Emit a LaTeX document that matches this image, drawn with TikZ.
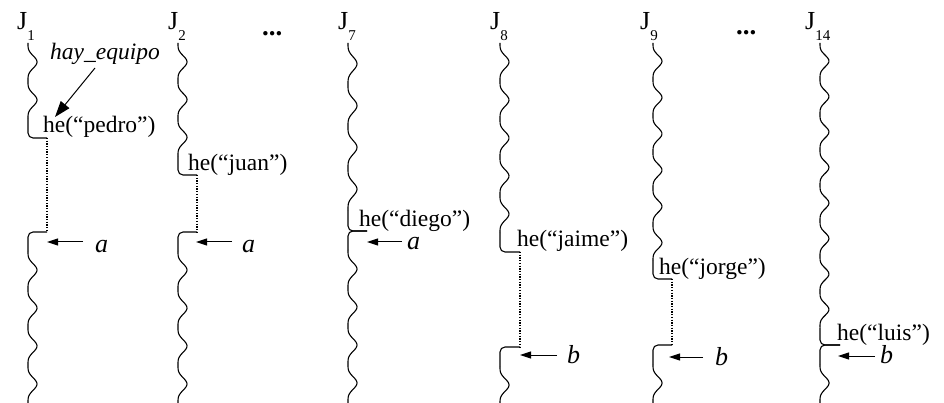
\documentclass[tikz,border=0pt]{standalone}
\usepackage{fontspec}
\setmainfont{Liberation Serif}
\usetikzlibrary{arrows.meta}
\newcommand\wv[5]{\draw[wave] plot[domain=#2:#3, samples=120, variable=\t] ({#1+9*((1+cos((\t-#4)/#5*360))/2)^2}, \t);}
\tikzset{
  wave/.style={line width=1.1pt, line join=round},
  corner/.style={line width=1.1pt, rounded corners=5pt},
  dotln/.style={line width=1.1pt, dash pattern=on 1.3pt off 1.4pt},
  arr/.style={line width=1pt, -{Triangle[length=11pt,width=7pt]}},
  bigarr/.style={line width=1pt, -{Triangle[length=16pt,width=11pt]}},
  txt/.style={anchor=base west, inner sep=0pt, font=\fontsize{23.5}{24}\selectfont},
  lab/.style={anchor=base west, inner sep=0pt, font=\fontsize{26}{26}\selectfont\itshape},
  note/.style={anchor=base west, inner sep=0pt, font=\fontsize{23.5}{24}\selectfont\itshape},
  jlab/.style={anchor=base west, inner sep=0pt},
  dots/.style={anchor=base west, inner sep=0pt, font=\fontsize{27}{27}\selectfont\bfseries}
}
\newcommand\jj[1]{{\fontsize{26}{26}\selectfont J}\raisebox{-11pt}{\fontsize{15}{15}\selectfont #1}}
\begin{document}
\begin{tikzpicture}[x=1pt,y=-1pt]
\useasboundingbox (0,0) rectangle (944,403);
% headings
\node[jlab] (J1) at (17,30) {\jj{1}};
\node[jlab] (J2) at (168,30) {\jj{2}};
\node[dots] (d1) at (262,36) {...};
\node[jlab] (J7) at (338,30) {\jj{7}};
\node[jlab] (J8) at (490,30) {\jj{8}};
\node[jlab] (J9) at (640,30) {\jj{9}};
\node[dots] (d2) at (736,35) {...};
\node[jlab] (J14) at (805,30) {\jj{14}};
% ---- column 1
\wv{28}{43}{119}{100}{38}
\draw[corner] (28,119) -- (28,138) -- (47,138);
\draw[dotln] (47,138) -- (47,232);
\draw[corner] (47,232) -- (28,232) -- (28,251);
\wv{28}{251}{403}{270}{38}
\node[txt] (t1) at (43,133) {he(“pedro”)};
\node[note] (hay) at (50,60) {hay\_equipo};
\coordinate (hs) at (95,68);
\coordinate (he) at (55,117);
\draw[bigarr] (hs) -- (he);
\node[lab] (la1) at (95,252) {a};
\coordinate (s1) at (83,242); \coordinate (e1) at (47,242);
\draw[arr] (s1) -- (e1);
% ---- column 2
\wv{178}{43}{156.15}{137.3}{37.7}
\draw[corner] (178,156.15) -- (178,175) -- (197,175);
\draw[dotln] (197,175) -- (197,232);
\draw[corner] (197,232) -- (178,232) -- (178,251);
\wv{178}{251}{403}{270}{38}
\node[txt] (t2) at (188,171) {he(“juan”)};
\node[lab] (la2) at (242,252) {a};
\coordinate (s2) at (232,242); \coordinate (e2) at (196,242);
\draw[arr] (s2) -- (e2);
% ---- column 3
\wv{348}{43}{210.1}{189.2}{41.8}
\draw[corner] (348,210.1) -- (348,231) -- (367,231);
\draw[corner] (367,231) -- (348,231) -- (348,250);
\wv{348}{250}{403}{269}{38}
\node[txt] (t3) at (359,227) {he(“diego”)};
\node[lab] (la3) at (407,250) {a};
\coordinate (s3) at (402,242); \coordinate (e3) at (367,242);
\draw[arr] (s3) -- (e3);
% ---- column 4
\wv{500}{43}{233}{214}{38}
\draw[corner] (500,233) -- (500,252) -- (520,252);
\draw[dotln] (520,252) -- (520,347);
\draw[corner] (520,347) -- (500,347) -- (500,366);
\wv{500}{366}{403}{385}{38}
\node[txt] (t4) at (517,247) {he(“jaime”)};
\node[lab] (lb4) at (567,363) {b};
\coordinate (s4) at (557,355); \coordinate (e4) at (520,355);
\draw[arr] (s4) -- (e4);
% ---- column 5
\wv{653}{43}{260.85}{242.7}{36.3}
\draw[corner] (653,260.85) -- (653,279) -- (672,279);
\draw[dotln] (672,279) -- (672,345);
\draw[corner] (672,345) -- (653,345) -- (653,364);
\wv{653}{364}{403}{383}{38}
\node[txt] (t5) at (659,274) {he(“jorge”)};
\node[lab] (lb5) at (715,365) {b};
\coordinate (s5) at (703,357); \coordinate (e5) at (669,357);
\draw[arr] (s5) -- (e5);
% ---- column 6
\wv{820}{43}{327.25}{309.5}{35.5}
\draw[corner] (820,327.25) -- (820,345) -- (840,345);
\draw[corner] (840,345) -- (820,345) -- (820,364);
\wv{820}{364}{403}{383}{38}
\node[txt] (t6) at (837,340) {he(“luis”)};
\node[lab] (lb6) at (880,363) {b};
\coordinate (s6) at (875,356); \coordinate (e6) at (838,356);
\draw[arr] (s6) -- (e6);
\end{tikzpicture}
\end{document}
